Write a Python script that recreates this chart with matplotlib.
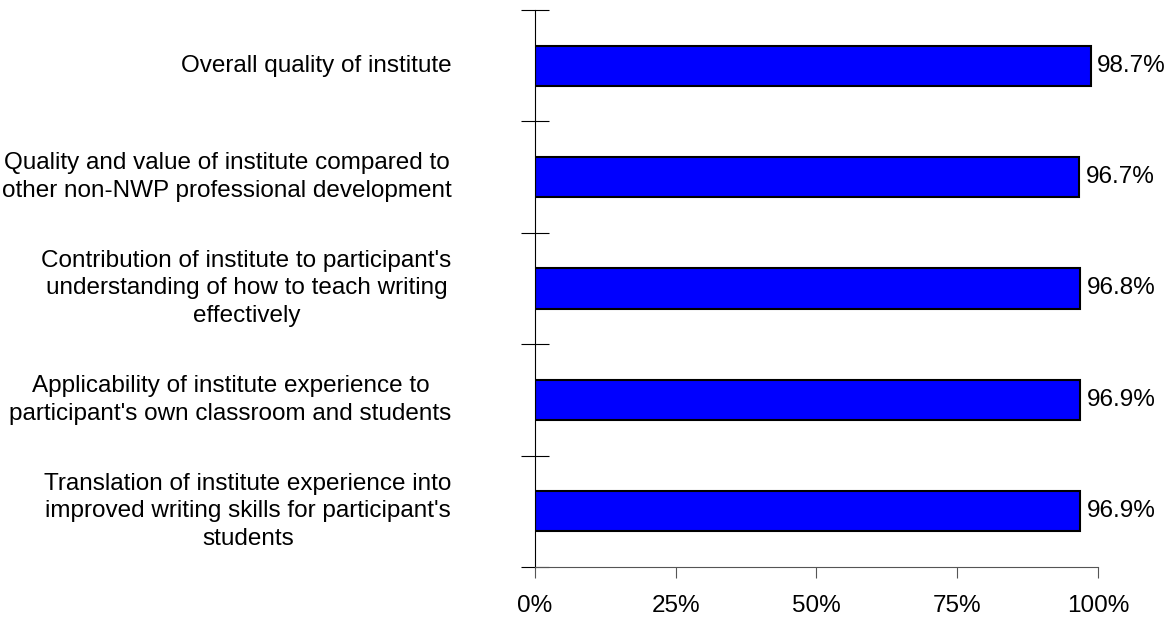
import numpy as np
import matplotlib.pyplot as plt

plt.rcParams['font.family'] = ['Liberation Sans', 'DejaVu Sans']

# Survey items, top to bottom
categories = [
    "Overall quality of institute",
    "Quality and value of institute compared to\nother non-NWP professional development",
    "Contribution of institute to participant's\nunderstanding of how to teach writing\neffectively",
    "Applicability of institute experience to\nparticipant's own classroom and students",
    "Translation of institute experience into\nimproved writing skills for participant's\nstudents",
]
values = [98.7, 96.7, 96.8, 96.9, 96.9]
xticks = [0, 25, 50, 75, 100]
xtick_labels = ["0%", "25%", "50%", "75%", "100%"]

fs = 17.5

fig = plt.figure(figsize=(11.73, 6.18), dpi=100)
ax = fig.add_axes([0.456, 0.0825, 0.48, 0.9015])

y = np.arange(len(categories))
ax.barh(y, values, height=0.36, color='#0000ff', edgecolor='black', linewidth=1.5)

for yi, v in zip(y, values):
    ax.text(v + 1.2, yi, f"{v:.1f}%", va='center', ha='left', fontsize=fs)

ax.set_xlim(0, 100)
ax.set_ylim(len(categories) - 0.5, -0.5)
ax.set_xticks(xticks)
ax.set_xticklabels(xtick_labels, fontsize=fs)
ax.tick_params(axis='x', direction='out', length=8, pad=12, color='#555555')

# category boundaries as y ticks, labels drawn separately
ax.set_yticks(np.arange(-0.5, len(categories), 1.0))
ax.set_yticklabels([])
ax.tick_params(axis='y', direction='inout', length=20, color='black')

for yi, label in zip(y, categories):
    ax.text(-14.8, yi, label, ha='right', va='center', multialignment='center',
            fontsize=fs, transform=ax.transData, linespacing=1.33)

for s in ['top', 'right']:
    ax.spines[s].set_visible(False)
ax.spines['left'].set_color('black')
ax.spines['bottom'].set_color('#555555')

fig.savefig('out.png', dpi=100)
